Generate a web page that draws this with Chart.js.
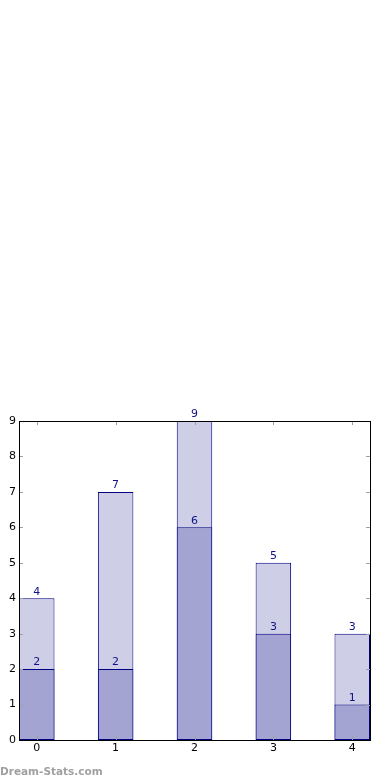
<!DOCTYPE html>
<html>
<head>
<meta charset="utf-8">
<script src="https://cdn.jsdelivr.net/npm/chart.js@4.4.1/dist/chart.umd.min.js"></script>
<style>
  html, body { margin: 0; padding: 0; background: #fff; }
  #wrap { width: 390px; height: 780px; }
</style>
</head>
<body>
<div id="wrap"><canvas id="c" width="390" height="780"></canvas></div>
<script>
  // data
  const categories = [0, 1, 2, 3, 4];
  const lowValues = [2, 2, 6, 3, 1];
  const highValues = [4, 7, 9, 5, 3];
  const yTicks = [0, 1, 2, 3, 4, 5, 6, 7, 8, 9];

  const EDGE = "#000080";
  const LABEL = "#10108a";
  const FONT = "DejaVu Sans";

  // boxed frame with matplotlib-style inward ticks + value labels + watermark
  const decor = {
    id: "decor",
    afterDatasetsDraw(chart) {
      const { ctx, chartArea: a, scales } = chart;
      ctx.save();
      // inward ticks
      ctx.strokeStyle = "#a0a0a0";
      ctx.lineWidth = 1;
      ctx.beginPath();
      yTicks.forEach((v) => {
        const y = Math.round(scales.y.getPixelForValue(v)) + 0.5;
        ctx.moveTo(a.left, y); ctx.lineTo(a.left + 4, y);
        ctx.moveTo(a.right, y); ctx.lineTo(a.right - 4, y);
      });
      categories.forEach((v) => {
        const x = Math.round(scales.x.getPixelForValue(v)) + 0.5;
        ctx.moveTo(x, a.bottom); ctx.lineTo(x, a.bottom - 4);
        ctx.moveTo(x, a.top); ctx.lineTo(x, a.top + 4);
      });
      ctx.stroke();
      // frame
      ctx.strokeStyle = "#000";
      ctx.strokeRect(Math.round(a.left) + 0.5, Math.round(a.top) + 0.5,
        Math.round(a.right - a.left), Math.round(a.bottom - a.top));
      // value labels
      ctx.fillStyle = LABEL;
      ctx.font = "11px '" + FONT + "'";
      ctx.textAlign = "center";
      ctx.textBaseline = "bottom";
      chart.data.datasets.forEach((ds, di) => {
        chart.getDatasetMeta(di).data.forEach((bar, i) => {
          ctx.fillText(String(ds.data[i].y), bar.x, bar.y - 1);
        });
      });
      // watermark
      ctx.fillStyle = "#a0a0a0";
      ctx.font = "bold 10.5px '" + FONT + "'";
      ctx.textAlign = "left";
      ctx.textBaseline = "alphabetic";
      ctx.fillText("Dream-Stats.com", 0, 775);
      ctx.restore();
    },
  };

  new Chart(document.getElementById("c"), {
    type: "bar",
    data: {
      datasets: [
        {
          label: "low",
          data: categories.map((c, i) => ({ x: c, y: lowValues[i] })),
          backgroundColor: "#a4a4d2",
          borderColor: EDGE,
          borderWidth: 1,
          borderSkipped: false,
          order: 0,
        },
        {
          label: "high",
          data: categories.map((c, i) => ({ x: c, y: highValues[i] })),
          backgroundColor: "#cecee6",
          borderColor: EDGE,
          borderWidth: 1,
          borderSkipped: false,
          order: 1,
        },
      ],
    },
    options: {
      responsive: false,
      animation: false,
      grouped: false,
      categoryPercentage: 1,
      barPercentage: 0.45,
      layout: { padding: { top: 421, right: 20, left: 0, bottom: 0 } },
      plugins: { legend: { display: false }, tooltip: { enabled: false } },
      scales: {
        x: {
          type: "linear",
          offset: false,
          min: -0.225,
          max: 4.225,
          afterBuildTicks: (s) => { s.ticks = categories.map((v) => ({ value: v })); },
          afterFit: (s) => { s.height = 40; },
          grid: { display: false, drawTicks: false },
          border: { display: false },
          ticks: { color: "#000", font: { family: FONT, size: 11 }, padding: 2 },
        },
        y: {
          min: 0,
          max: 9,
          afterBuildTicks: (s) => { s.ticks = yTicks.map((v) => ({ value: v })); },
          afterFit: (s) => { s.width = 19; },
          grid: { display: false, drawTicks: false },
          border: { display: false },
          ticks: { color: "#000", font: { family: FONT, size: 11 }, padding: 3 },
        },
      },
    },
    plugins: [decor],
  });
</script>
</body>
</html>
